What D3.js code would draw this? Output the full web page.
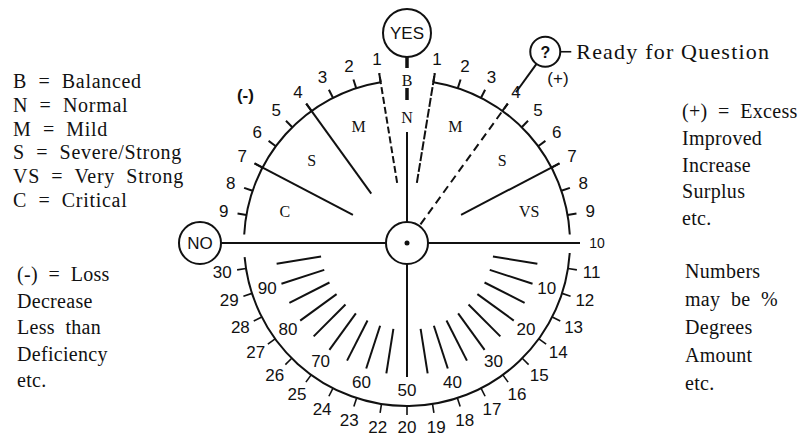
<!DOCTYPE html>
<html>
<head>
<meta charset="utf-8">
<script src="https://cdn.jsdelivr.net/npm/d3@7"></script>
<style>
  body { margin: 0; background: #fff; }
  text { fill: #111; }
  .serif { font-family: "Liberation Serif", "Times New Roman", serif; }
  .sans { font-family: "Liberation Sans", Arial, sans-serif; }
</style>
</head>
<body>
<div id="chart"></div>
<script>
// tick labels on the outer scale
var upperTicks = [1, 2, 3, 4, 5, 6, 7, 8, 9];
var lowerTicks = [11, 12, 13, 14, 15, 16, 17, 18, 19, 20, 22, 23, 24, 25, 26, 27, 28, 29, 30];
// inner fan (0 - 100)
var innerMarks = [5, 10, 15, 20, 25, 30, 35, 40, 45, 50, 55, 60, 65, 70, 75, 80, 85, 90, 95];
var innerLabels = [10, 20, 30, 40, 50, 60, 70, 80, 90];
// zones in the upper half
var zoneBounds = [1, 4, 7, 10];
var leftZones = ["M", "S", "C"];
var rightZones = ["M", "S", "VS"];

var keyLines = ["B  =  Balanced", "N  =  Normal", "M  =  Mild", "S  =  Severe/Strong", "VS  =  Very  Strong", "C  =  Critical"];
var lossLines = ["(-)  =  Loss", "Decrease", "Less  than", "Deficiency", "etc."];
var excessLines = ["(+)  =  Excess", "Improved", "Increase", "Surplus", "etc."];
var numberLines = ["Numbers", "may  be  %", "Degrees", "Amount", "etc."];

var svgWidth = 810;
var svgHeight = 437;
var cx = 407, cy = 243, R = 163;

var svg = d3.select("#chart").append("svg").attr("width", svgWidth).attr("height", svgHeight);
var g = svg.append("g").attr("stroke", "#111").attr("fill", "none");

// angle: degrees, 0 = up, clockwise
function pt(r, a) {
    var t = a * Math.PI / 180;
    return [cx + r * Math.sin(t), cy - r * Math.cos(t)];
}
function spoke(r0, r1, a) {
    var p0 = pt(r0, a), p1 = pt(r1, a);
    return g.append("line").attr("x1", p0[0]).attr("y1", p0[1]).attr("x2", p1[0]).attr("y2", p1[1]).attr("stroke-width", 2);
}

var upAngle = d3.scaleLinear().domain([1, 10]).range([9.3, 89]);
var lowAngle = d3.scaleLinear().domain([0, lowerTicks.length]).range([90, 261]);
var innerAngle = d3.scaleLinear().domain([0, 100]).range([90, 270]);

var arc = d3.arc().innerRadius(R).outerRadius(R);
var rad = Math.PI / 180;
var arcs = [[9.3, 87], [-87, -9.3], [93.5, 265]];
g.selectAll("path.rim").data(arcs).enter().append("path")
    .attr("class", "rim")
    .attr("transform", `translate(${cx},${cy})`)
    .attr("d", d => arc({startAngle: d[0] * rad, endAngle: d[1] * rad}))
    .attr("stroke-width", 2);

// upper ticks, both sides
upperTicks.forEach(function(t) {
    spoke(R, R + 9, upAngle(t));
    spoke(R, R + 9, -upAngle(t));
});
lowerTicks.forEach(function(t, i) {
    spoke(R, R + 9, lowAngle(i + 1)).attr("stroke-width", 1.6);
});

// zone dividers
spoke(61, 172, -upAngle(1)).attr("stroke-dasharray", "7,3");
spoke(61, 172, upAngle(1)).attr("stroke-dasharray", "9,2");
spoke(61, 172, -upAngle(4));
spoke(61, 172, -upAngle(7));
spoke(61, 172, upAngle(7));
spoke(23, 172, upAngle(4)).attr("stroke-dasharray", "8,5");
spoke(186, 222, upAngle(4));

// inner fan
innerMarks.forEach(function(v) {
    spoke(v === 50 ? 21 : 87, v === 50 ? 134 : 132, innerAngle(v));
});

// main cross
spoke(21, 186, 270);
spoke(21, 173, 90);
spoke(21, 111, 0);
spoke(143, 155, 0).attr("stroke-width", 3.5);
spoke(175, 186, 0).attr("stroke-width", 3.5);

// circles
var circles = [
    {p: pt(0, 0), r: 21, label: ""},
    {p: pt(210, 0), r: 24, label: "YES"},
    {p: pt(207, 270), r: 21, label: "NO"},
    {p: pt(236, upAngle(4)), r: 15, label: "?"}
];
circles.forEach(function(c) {
    g.append("circle").attr("cx", c.p[0]).attr("cy", c.p[1]).attr("r", c.r).attr("stroke-width", 2).attr("fill", "#fff");
    svg.append("text").attr("class", "sans").attr("x", c.p[0]).attr("y", c.p[1] + 6)
        .attr("text-anchor", "middle").attr("font-size", c.label === "?" ? 16 : 17)
        .attr("font-weight", c.label === "?" ? "bold" : "normal").text(c.label);
});
svg.append("circle").attr("cx", cx).attr("cy", cy).attr("r", 2.5).attr("fill", "#111");

// ? connector
var qp = pt(236, upAngle(4));
g.append("line").attr("x1", qp[0] + 15).attr("y1", qp[1]).attr("x2", qp[0] + 26).attr("y2", qp[1]).attr("stroke-width", 1.6);
svg.append("text").attr("class", "serif").attr("x", qp[0] + 31).attr("y", qp[1] + 7)
    .attr("font-size", 22).attr("letter-spacing", 1.2).text("Ready  for  Question");

// tick labels
function label(r, a, txt, size, cls) {
    var p = pt(r, a);
    return svg.append("text").attr("class", cls || "sans").attr("x", p[0]).attr("y", p[1])
        .attr("text-anchor", "middle").attr("dominant-baseline", "central")
        .attr("font-size", size || 17).text(txt);
}
upperTicks.forEach(function(t) {
    label(186, upAngle(t), t);
    label(186, -upAngle(t), t);
});
label(190, 90, 10, 14);
lowerTicks.forEach(function(t, i) {
    label(t === 20 ? 184 : 187, lowAngle(i + 1), t);
});
innerLabels.forEach(function(v) {
    label(147, innerAngle(v), v);
});

// zone letters
leftZones.forEach(function(z, i) {
    label(126, -upAngle((zoneBounds[i] + zoneBounds[i + 1]) / 2), z, 16, "serif");
});
rightZones.forEach(function(z, i) {
    label(126, upAngle((zoneBounds[i] + zoneBounds[i + 1]) / 2), z, 16, "serif");
});
label(163, 0, "B", 16, "serif");
label(126, 0, "N", 16, "serif");
label(219, -upAngle(5.32), "(-)", 17).attr("font-weight", "bold");
label(223, upAngle(4.76), "(+)", 17);

// side notes
function block(lines, x, y0, y1, size, ls) {
    var y = d3.scaleLinear().domain([0, lines.length - 1]).range([y0, y1]);
    svg.append("g").selectAll("text").data(lines).enter().append("text")
        .attr("class", "serif").attr("x", x).attr("y", (d, i) => y(i))
        .attr("font-size", size).attr("letter-spacing", ls).style("white-space", "pre").text(d => d);
}
block(keyLines, 13, 88, 207, 20, 0.7);
block(lossLines, 17, 281, 387, 20, 0.3);
block(excessLines, 682, 118, 225, 20, 0.3);
block(numberLines, 685, 278, 390, 20, 0.3);
</script>
</body>
</html>
